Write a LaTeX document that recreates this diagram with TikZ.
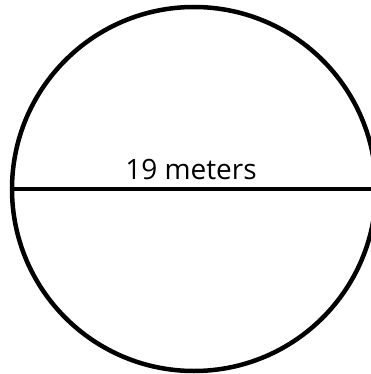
\documentclass[tikz,border=0pt]{standalone}
\usepackage{fontspec}
\setmainfont{Open Sans}
\usepackage{tikz}
\usetikzlibrary{positioning}
\tikzset{
  % --- the circle and its diameter --------------------------------------------
  ring/.style={circle,draw,line width=4.5pt,minimum size=364pt,inner sep=0pt},
  diam/.style={line width=3.5pt},
  dlab/.style={font=\fontsize{28}{30}\selectfont,inner sep=1pt},
}
\begin{document}
\begin{tikzpicture}[x=1pt, y=-1pt]
  \useasboundingbox (0,0) rectangle (371,374);
  % --- the circle --------------------------------------------------------------
  \node[ring] (ring) at (194,189) {};
  % --- the diameter and its length ---------------------------------------------
  \draw[diam] (ring.west) -- (ring.east);
  \node[dlab,above=8pt of ring.center,xshift=-3pt] (len) {19 meters};
\end{tikzpicture}
\end{document}
